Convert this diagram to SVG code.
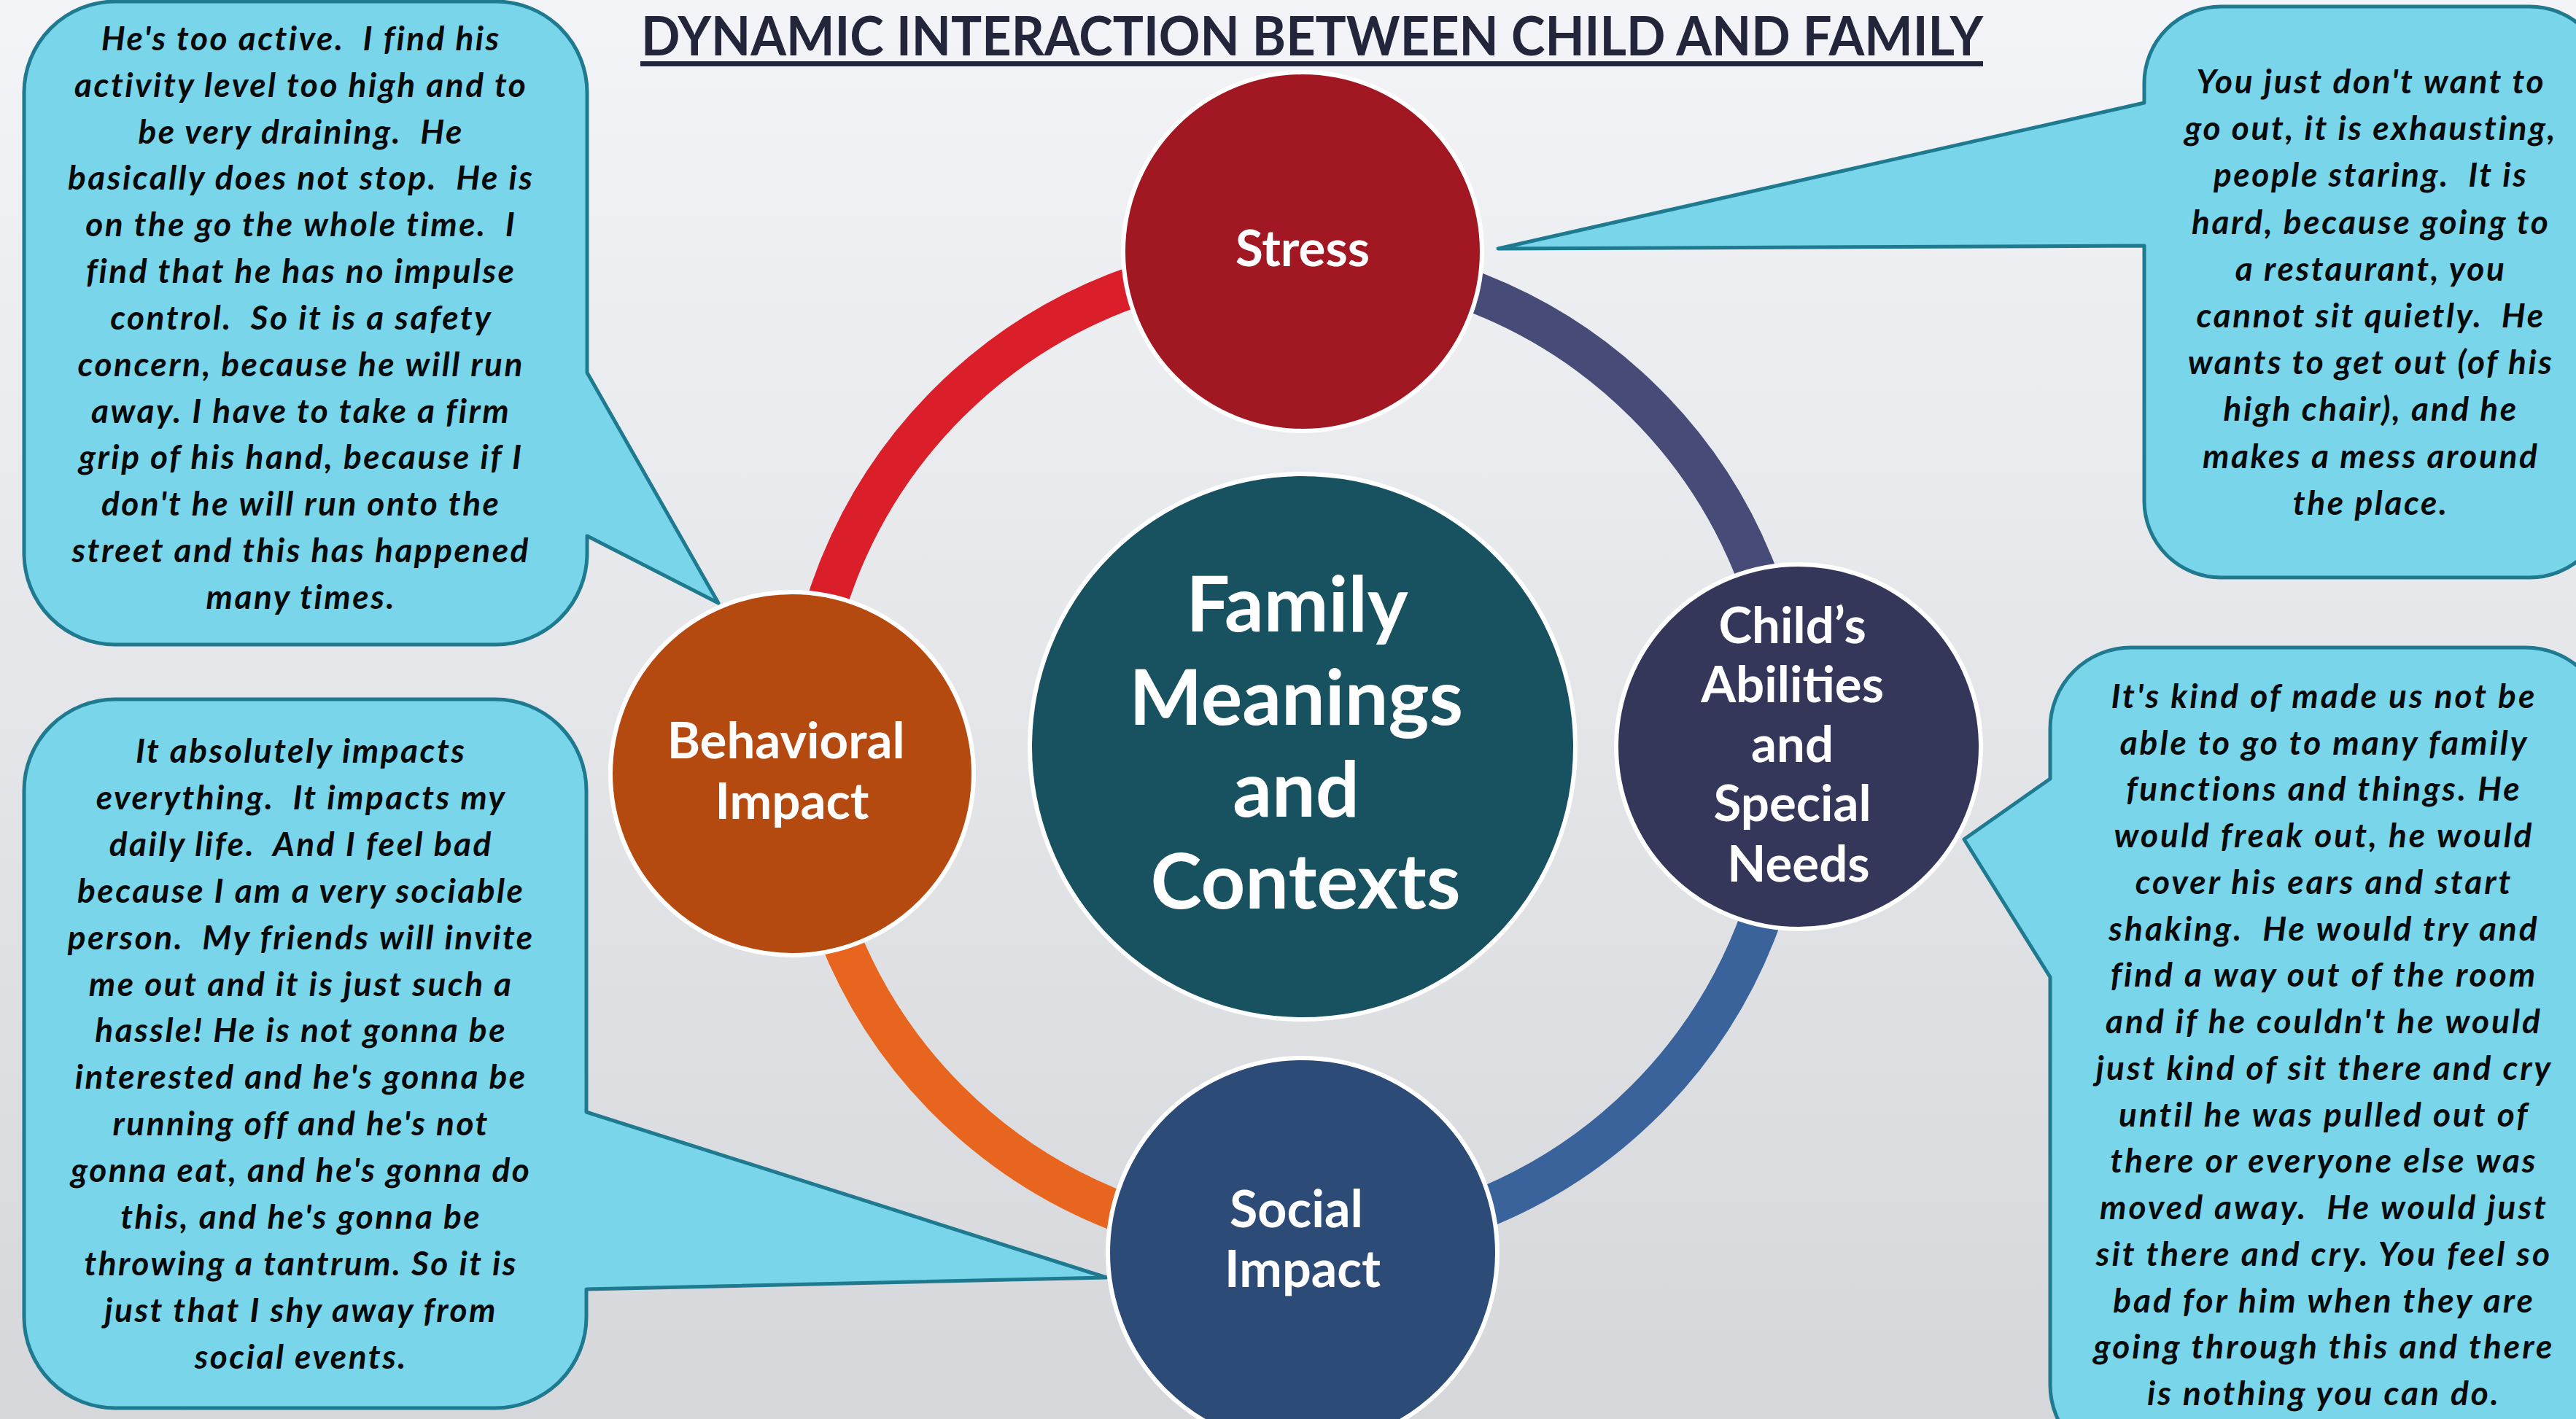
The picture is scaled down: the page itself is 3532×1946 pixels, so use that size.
<svg xmlns="http://www.w3.org/2000/svg" width="3532" height="1946" viewBox="0 0 3532 1946">
<defs>
<linearGradient id="bg" x1="0" y1="0" x2="0" y2="1">
<stop offset="0" stop-color="#F3F4F8"/>
<stop offset="1" stop-color="#D6D7DB"/>
</linearGradient>
<style>
.arc{fill:none;stroke-width:56}
.node{stroke:#FFFFFF;stroke-width:6}
.nl{font-family:Lato,"Open Sans","Liberation Sans",sans-serif;font-weight:700;fill:#FFFFFF;text-anchor:middle}
.call{fill:#78D5EA;stroke:#1F7A90;stroke-width:5;stroke-linejoin:round}
.ct{font-family:Lato,"Open Sans","Liberation Sans",sans-serif;font-weight:700;font-style:italic;font-size:46px;letter-spacing:2.5px;fill:#0A0A0A;text-anchor:middle;white-space:pre}
.title{font-family:Lato,"Open Sans","Liberation Sans",sans-serif;font-weight:700;font-size:75px;fill:#23253B;text-anchor:middle}
</style>
</defs>
<rect x="0" y="0" width="3532" height="1946" fill="url(#bg)"/>

<g id="title">
<text class="title" x="1799" y="76" textLength="1840" lengthAdjust="spacingAndGlyphs">DYNAMIC INTERACTION BETWEEN CHILD AND FAMILY</text>
<rect x="878" y="84" width="1841" height="7" fill="#23253B"/>
</g>

<g id="connectors">
<path class="arc" stroke="#DA1F2A" d="M 1102 1031 A 676 676 0 0 1 1778 355"/>
<path class="arc" stroke="#474B78" d="M 1778 355 A 676 676 0 0 1 2454 1031"/>
<path class="arc" stroke="#3A639C" d="M 2454 1031 A 676 676 0 0 1 1778 1707"/>
<path class="arc" stroke="#E8651F" d="M 1778 1707 A 676 676 0 0 1 1102 1031"/>
</g>

<g id="callout-behavior">
<path class="call" d="M 158 2 H 680 A 125 125 0 0 1 805 127 V 511 L 985 827 L 805 735 V 759 A 125 125 0 0 1 680 884 H 158 A 125 125 0 0 1 33 759 V 127 A 125 125 0 0 1 158 2 Z"/>
<text class="ct">
<tspan x="419" y="69">He's too active.  I find his</tspan>
<tspan x="419" y="133">activity level too high and to</tspan>
<tspan x="419" y="197">be very draining.  He</tspan>
<tspan x="419" y="260">basically does not stop.  He is</tspan>
<tspan x="419" y="324">on the go the whole time.  I</tspan>
<tspan x="419" y="388">find that he has no impulse</tspan>
<tspan x="419" y="452">control.  So it is a safety</tspan>
<tspan x="419" y="516">concern, because he will run</tspan>
<tspan x="419" y="580">away. I have to take a firm</tspan>
<tspan x="419" y="643">grip of his hand, because if I</tspan>
<tspan x="419" y="707">don't he will run onto the</tspan>
<tspan x="419" y="771">street and this has happened</tspan>
<tspan x="419" y="835">many times.</tspan>
</text>
</g>

<g id="callout-social">
<path class="call" d="M 158 959 H 679 A 125 125 0 0 1 804 1084 V 1525 L 1517 1752 L 804 1768 V 1806 A 125 125 0 0 1 679 1931 H 158 A 125 125 0 0 1 33 1806 V 1084 A 125 125 0 0 1 158 959 Z"/>
<text class="ct">
<tspan x="419" y="1046">It absolutely impacts</tspan>
<tspan x="419" y="1110">everything.  It impacts my</tspan>
<tspan x="419" y="1174">daily life.  And I feel bad</tspan>
<tspan x="419" y="1238">because I am a very sociable</tspan>
<tspan x="419" y="1302">person.  My friends will invite</tspan>
<tspan x="419" y="1366">me out and it is just such a</tspan>
<tspan x="419" y="1429">hassle! He is not gonna be</tspan>
<tspan x="419" y="1493">interested and he's gonna be</tspan>
<tspan x="419" y="1557">running off and he's not</tspan>
<tspan x="419" y="1621">gonna eat, and he's gonna do</tspan>
<tspan x="419" y="1685">this, and he's gonna be</tspan>
<tspan x="419" y="1749">throwing a tantrum. So it is</tspan>
<tspan x="419" y="1813">just that I shy away from</tspan>
<tspan x="419" y="1877">social events.</tspan>
</text>
</g>

<g id="callout-stress">
<path class="call" d="M 3045 9 H 3469 A 105 105 0 0 1 3574 114 V 687 A 105 105 0 0 1 3469 792 H 3045 A 105 105 0 0 1 2940 687 V 337 L 2054 341 L 2940 141 V 114 A 105 105 0 0 1 3045 9 Z"/>
<text class="ct" style="letter-spacing:2.6px">
<tspan x="3257" y="128">You just don't want to</tspan>
<tspan x="3257" y="192">go out, it is exhausting,</tspan>
<tspan x="3257" y="256">people staring.  It is</tspan>
<tspan x="3257" y="321">hard, because going to</tspan>
<tspan x="3257" y="385">a restaurant, you</tspan>
<tspan x="3257" y="449">cannot sit quietly.  He</tspan>
<tspan x="3257" y="513">wants to get out (of his</tspan>
<tspan x="3257" y="577">high chair), and he</tspan>
<tspan x="3257" y="642">makes a mess around</tspan>
<tspan x="3257" y="706">the place.</tspan>
</text>
</g>

<g id="callout-child">
<path class="call" d="M 2922 888 H 3463 A 111 111 0 0 1 3574 999 V 1899 A 111 111 0 0 1 3463 2010 H 2922 A 111 111 0 0 1 2811 1899 V 1340 L 2693 1151 L 2811 1068 V 999 A 111 111 0 0 1 2922 888 Z"/>
<text class="ct" style="letter-spacing:3px">
<tspan x="3193" y="971">It's kind of made us not be</tspan>
<tspan x="3193" y="1035">able to go to many family</tspan>
<tspan x="3193" y="1098">functions and things. He</tspan>
<tspan x="3193" y="1162">would freak out, he would</tspan>
<tspan x="3193" y="1226">cover his ears and start</tspan>
<tspan x="3193" y="1290">shaking.  He would try and</tspan>
<tspan x="3193" y="1353">find a way out of the room</tspan>
<tspan x="3193" y="1417">and if he couldn't he would</tspan>
<tspan x="3193" y="1481">just kind of sit there and cry</tspan>
<tspan x="3193" y="1545">until he was pulled out of</tspan>
<tspan x="3193" y="1608">there or everyone else was</tspan>
<tspan x="3193" y="1672">moved away.  He would just</tspan>
<tspan x="3193" y="1736">sit there and cry. You feel so</tspan>
<tspan x="3193" y="1800">bad for him when they are</tspan>
<tspan x="3193" y="1863">going through this and there</tspan>
<tspan x="3193" y="1927">is nothing you can do.</tspan>
</text>
</g>

<g id="node-stress">
<circle class="node" cx="1786" cy="345" r="246" fill="#A21822"/>
<text class="nl" x="1786" y="365" font-size="69">Stress</text>
</g>

<g id="node-center">
<circle class="node" cx="1786" cy="1024" r="374" fill="#185260"/>
<text class="nl" font-size="106">
<tspan x="1790" y="866">Family</tspan>
<tspan x="1790" y="994">Meanings</tspan>
<tspan x="1790" y="1120">and</tspan>
<tspan x="1790" y="1246">Contexts</tspan>
</text>
</g>

<g id="node-behavioral">
<circle class="node" cx="1086" cy="1061" r="249" fill="#B54A11"/>
<text class="nl" font-size="69">
<tspan x="1086" y="1040">Behavioral</tspan>
<tspan x="1086" y="1123">Impact</tspan>
</text>
</g>

<g id="node-child">
<circle class="node" cx="2466" cy="1024" r="250" fill="#35375A"/>
<text class="nl" font-size="69">
<tspan x="2466" y="882">Child’s</tspan>
<tspan x="2466" y="963">Abilities</tspan>
<tspan x="2466" y="1045">and</tspan>
<tspan x="2466" y="1126">Special</tspan>
<tspan x="2466" y="1209">Needs</tspan>
</text>
</g>

<g id="node-social">
<circle class="node" cx="1786" cy="1718" r="267" fill="#2C4B76"/>
<text class="nl" font-size="70">
<tspan x="1786" y="1683">Social</tspan>
<tspan x="1786" y="1765">Impact</tspan>
</text>
</g>
</svg>
